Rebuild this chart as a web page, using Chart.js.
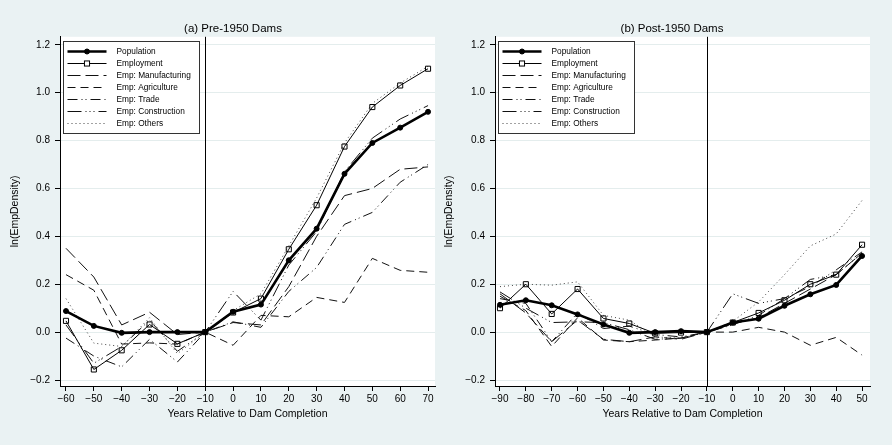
<!DOCTYPE html>
<html>
<head>
<meta charset="utf-8">
<script src="https://cdn.jsdelivr.net/npm/chart.js@4"></script>
<style>
  html, body { margin: 0; padding: 0; background: #eaf2f3; width: 892px; height: 445px; overflow: hidden; }
  .panel { position: absolute; top: 0; height: 445px; }
  #panelPre { left: 0; width: 466px; }
  #panelPost { left: 440px; width: 464px; }
</style>
</head>
<body>
<div class="panel" id="panelPre"><canvas id="pre" width="466" height="445"></canvas></div>
<div class="panel" id="panelPost"><canvas id="post" width="464" height="445"></canvas></div>
<script>
// ---- Years relative to dam completion ----
const preYears  = [-60, -50, -40, -30, -20, -10, 0, 10, 20, 30, 40, 50, 60, 70];
const postYears = [-90, -80, -70, -60, -50, -40, -30, -20, -10, 0, 10, 20, 30, 40, 50];

// ---- (a) Pre-1950 dams: ln(EmpDensity) ----
const prePopulation    = [0.088, 0.026, -0.003, 0.000, 0.000, 0, 0.085, 0.115, 0.300, 0.432, 0.661, 0.790, 0.854, 0.920];
const preEmployment    = [0.047, -0.156, -0.076, 0.032, -0.049, 0, 0.082, 0.140, 0.346, 0.530, 0.775, 0.940, 1.030, 1.100];
const preManufacturing = [0.350, 0.230, 0.030, 0.083, -0.010, 0, 0.040, 0.030, 0.190, 0.400, 0.570, 0.600, 0.680, 0.690];
const preAgriculture   = [0.240, 0.175, -0.050, -0.045, -0.050, 0, -0.055, 0.070, 0.064, 0.145, 0.124, 0.308, 0.258, 0.250];
const preTrade         = [-0.025, -0.100, -0.145, -0.030, -0.125, 0, 0.043, 0.020, 0.170, 0.270, 0.450, 0.500, 0.626, 0.700];
const preConstruction  = [0.030, -0.130, -0.060, 0.050, -0.080, 0, 0.170, 0.050, 0.280, 0.420, 0.670, 0.810, 0.890, 0.946];
const preOthers        = [0.140, -0.046, -0.060, 0.060, -0.090, 0, 0.090, 0.160, 0.360, 0.560, 0.790, 0.955, 1.040, 1.110];

// ---- (b) Post-1950 dams: ln(EmpDensity) ----
const postPopulation    = [0.114, 0.133, 0.112, 0.074, 0.032, -0.003, 0.000, 0.004, 0, 0.040, 0.056, 0.110, 0.158, 0.197, 0.318];
const postEmployment    = [0.100, 0.200, 0.076, 0.180, 0.057, 0.036, -0.005, -0.002, 0, 0.040, 0.080, 0.133, 0.200, 0.240, 0.365];
const postManufacturing = [0.160, 0.080, -0.040, 0.050, -0.030, -0.040, -0.020, -0.030, 0, 0.035, 0.060, 0.120, 0.180, 0.240, 0.330];
const postAgriculture   = [0.150, 0.090, -0.060, 0.060, -0.033, -0.040, -0.033, -0.025, 0, 0.000, 0.020, 0.000, -0.055, -0.022, -0.096];
const postTrade         = [0.140, 0.120, -0.040, 0.080, 0.015, 0.025, -0.010, -0.020, 0, 0.030, 0.070, 0.140, 0.190, 0.260, 0.335];
const postConstruction  = [0.168, 0.100, 0.040, 0.043, 0.040, 0.010, -0.030, -0.025, 0, 0.160, 0.120, 0.140, 0.220, 0.240, 0.330];
const postOthers        = [0.190, 0.200, 0.196, 0.210, 0.070, 0.050, -0.020, -0.025, 0, 0.045, 0.126, 0.240, 0.360, 0.410, 0.550];

// ---- Axis ticks ----
const yTicks    = [-0.2, 0.0, 0.2, 0.4, 0.6, 0.8, 1.0, 1.2];
const preXTicks = [-60, -50, -40, -30, -20, -10, 0, 10, 20, 30, 40, 50, 60, 70];
const postXTicks = [-90, -80, -70, -60, -50, -40, -30, -20, -10, 0, 10, 20, 30, 40, 50];
const completionYear = -10;

Chart.defaults.font.family = "'Liberation Sans', Arial, Helvetica, sans-serif";
Chart.defaults.color = '#000';

const minus = s => s.replace('-', '\u2212');

// line styles for each series
const seriesStyles = {
  'Population':         { borderWidth: 2.6, borderDash: [], pointRadius: 2.5, pointStyle: 'circle', pointBackgroundColor: '#000', pointBorderColor: '#000', pointBorderWidth: 1 },
  'Employment':         { borderWidth: 1, borderDash: [], pointRadius: 3.6, pointStyle: 'rect', pointBackgroundColor: 'rgba(0,0,0,0)', pointBorderColor: '#000', pointBorderWidth: 1 },
  'Emp: Manufacturing': { borderWidth: 1, borderDash: [13, 5], borderColor: '#111' },
  'Emp: Agriculture':   { borderWidth: 1, borderDash: [8, 5], borderColor: '#111' },
  'Emp: Trade':         { borderWidth: 1, borderDash: [10, 4, 1, 3, 1, 4], borderColor: '#111' },
  'Emp: Construction':  { borderWidth: 1, borderDash: [14, 4, 1, 3, 1, 3, 1, 4], borderColor: '#111' },
  'Emp: Others':        { borderWidth: 1, borderDash: [1, 3], borderColor: '#444' }
};

function makeDataset(label, years, values) {
  return Object.assign({
    label,
    data: years.map((x, i) => ({ x, y: values[i] })),
    borderColor: '#000',
    fill: false,
    tension: 0,
    pointRadius: 0,
    pointHoverRadius: 0
  }, seriesStyles[label]);
}

// white plot region
const plotFill = {
  id: 'plotFill',
  beforeDraw(chart) {
    const { ctx, chartArea: a } = chart;
    ctx.save();
    ctx.fillStyle = '#ffffff';
    ctx.fillRect(a.left, a.top, a.right - a.left, a.bottom - a.top);
    ctx.restore();
  }
};

// vertical reference line at dam completion
const completionLine = {
  id: 'completionLine',
  beforeDatasetsDraw(chart) {
    const { ctx, chartArea: a, scales } = chart;
    const x = Math.round(scales.x.getPixelForValue(completionYear)) + 0.5;
    ctx.save();
    ctx.strokeStyle = '#000';
    ctx.lineWidth = 1;
    ctx.beginPath();
    ctx.moveTo(x, a.top);
    ctx.lineTo(x, a.bottom);
    ctx.stroke();
    ctx.restore();
  }
};

// boxed legend inside the plot region, drawn with each dataset's own line style
const boxLegend = {
  id: 'boxLegend',
  afterDatasetsDraw(chart) {
    const { ctx, chartArea: a } = chart;
    const sets = chart.data.datasets;
    const bx = Math.round(a.left + 3) + 0.5, by = Math.round(a.top + 4) + 0.5;
    const bw = 136, rowH = 12, bh = 92;
    ctx.save();
    ctx.fillStyle = '#fff';
    ctx.fillRect(bx, by, bw, bh);
    ctx.strokeStyle = '#333';
    ctx.lineWidth = 1;
    ctx.setLineDash([]);
    ctx.strokeRect(bx, by, bw, bh);
    ctx.font = "8.3px 'Liberation Sans', Arial, sans-serif";
    ctx.textBaseline = 'middle';
    ctx.textAlign = 'left';
    sets.forEach((ds, i) => {
      const y = by + 10 + i * rowH;
      const x0 = bx + 4, x1 = bx + 43, xm = (x0 + x1) / 2;
      ctx.strokeStyle = ds.borderColor;
      ctx.lineWidth = ds.borderWidth;
      ctx.setLineDash(ds.borderDash || []);
      ctx.beginPath();
      ctx.moveTo(x0, y);
      ctx.lineTo(x1, y);
      ctx.stroke();
      ctx.setLineDash([]);
      if (ds.pointRadius > 0) {
        ctx.strokeStyle = ds.pointBorderColor;
        ctx.lineWidth = ds.pointBorderWidth;
        if (ds.pointStyle === 'circle') {
          ctx.fillStyle = ds.pointBackgroundColor;
          ctx.beginPath();
          ctx.arc(xm, y, ds.pointRadius, 0, Math.PI * 2);
          ctx.fill();
          ctx.stroke();
        } else {
          const s = ds.pointRadius * Math.SQRT1_2;
          ctx.fillStyle = '#fff';
          ctx.fillRect(xm - s, y - s, 2 * s, 2 * s);
          ctx.strokeRect(xm - s, y - s, 2 * s, 2 * s);
        }
      }
      ctx.fillStyle = '#000';
      ctx.fillText(ds.label, bx + 53, y + 0.5);
    });
    ctx.restore();
  }
};

function buildChart(canvasId, cfg) {
  const ds = [
    makeDataset('Population', cfg.years, cfg.population),
    makeDataset('Employment', cfg.years, cfg.employment),
    makeDataset('Emp: Manufacturing', cfg.years, cfg.manufacturing),
    makeDataset('Emp: Agriculture', cfg.years, cfg.agriculture),
    makeDataset('Emp: Trade', cfg.years, cfg.trade),
    makeDataset('Emp: Construction', cfg.years, cfg.construction),
    makeDataset('Emp: Others', cfg.years, cfg.others)
  ];
  return new Chart(document.getElementById(canvasId), {
    type: 'line',
    data: { datasets: ds },
    options: {
      responsive: false,
      animation: false,
      events: [],
      layout: { padding: 0 },
      plugins: {
        legend: { display: false },
        tooltip: { enabled: false },
        title: {
          display: true,
          text: cfg.title,
          color: '#000',
          font: { size: 11.5, weight: 'normal' },
          padding: { top: 22, bottom: 1 }
        }
      },
      scales: {
        x: {
          type: 'linear',
          min: cfg.xMin,
          max: cfg.xMax,
          afterBuildTicks: s => { s.ticks = cfg.xTicks.map(v => ({ value: v })); },
          afterFit: s => { s.height = 59; },
          ticks: {
            autoSkip: false, maxRotation: 0, padding: 2,
            font: { size: 10 }, color: '#000',
            callback: v => minus(String(v))
          },
          grid: { drawOnChartArea: false, drawTicks: true, tickLength: 5, tickColor: '#000', tickWidth: 1 },
          border: { display: true, color: '#000', width: 1 },
          title: {
            display: true, text: 'Years Relative to Dam Completion', color: '#000',
            font: { size: 10.5 }, padding: { top: 0, bottom: 25 }
          }
        },
        y: {
          type: 'linear',
          position: 'left',
          min: -0.225,
          max: 1.2333,
          afterBuildTicks: s => { s.ticks = yTicks.map(v => ({ value: v })); },
          afterFit: s => { s.width = cfg.yWidth; },
          ticks: {
            padding: 5, font: { size: 10 }, color: '#000',
            callback: v => minus(Number(v).toFixed(1))
          },
          grid: { color: '#e4eded', lineWidth: 1, drawTicks: true, tickLength: 5, tickColor: '#000' },
          border: { display: true, color: '#000', width: 1 },
          title: {
            display: true, text: 'ln(EmpDensity)', color: '#000',
            font: { size: 10.5 }, padding: { top: cfg.yTitlePad, bottom: 0 }
          }
        },
        gutter: {
          type: 'linear',
          position: 'right',
          display: true,
          afterFit: s => { s.width = cfg.rightGap; },
          ticks: { display: false },
          grid: { display: false },
          border: { display: false }
        }
      }
    },
    plugins: [plotFill, completionLine, boxLegend]
  });
}

buildChart('pre', {
  title: '(a) Pre-1950 Dams',
  years: preYears, xTicks: preXTicks, xMin: -62.15, xMax: 72.5,
  population: prePopulation, employment: preEmployment, manufacturing: preManufacturing,
  agriculture: preAgriculture, trade: preTrade, construction: preConstruction, others: preOthers,
  yWidth: 60, rightGap: 31, yTitlePad: 9
});

buildChart('post', {
  title: '(b) Post-1950 Dams',
  years: postYears, xTicks: postXTicks, xMin: -91.93, xMax: 53.07,
  population: postPopulation, employment: postEmployment, manufacturing: postManufacturing,
  agriculture: postAgriculture, trade: postTrade, construction: postConstruction, others: postOthers,
  yWidth: 55, rightGap: 34, yTitlePad: 3
});
</script>
</body>
</html>
